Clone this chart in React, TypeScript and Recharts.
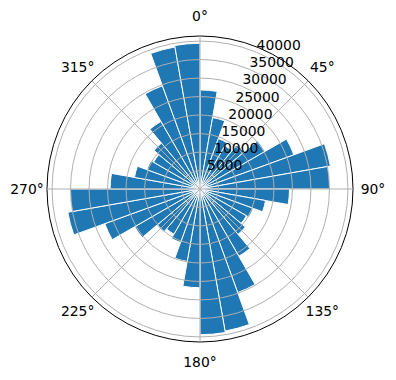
import { RadarChart, Radar, PolarGrid, PolarAngleAxis, PolarRadiusAxis, Sector } from 'recharts';

// wind-rose style bins, 10 degrees each, clockwise from north
const binStarts = [
  0, 10, 20, 30, 40, 50, 60, 70, 80,
  90, 100, 110, 120, 130, 140, 150, 160, 170,
  180, 190, 200, 210, 220, 230, 240, 250, 260,
  270, 280, 290, 300, 310, 320, 330, 340, 350,
];
const counts = [
  26800, 19600, 14500, 13500, 15500, 20300, 27000, 35800, 35100,
  24200, 18000, 15300, 14500, 16000, 21000, 29800, 39000, 39400,
  26700, 19900, 15400, 14100, 15200, 20400, 27400, 36300, 35100,
  24300, 18000, 15300, 14500, 16200, 21100, 29700, 39000, 39400,
];
const angleTicks = [0, 45, 90, 135, 180, 225, 270, 315];
const radiusTicks = [5000, 10000, 15000, 20000, 25000, 30000, 35000, 40000];
const R_MAX = 41370;
const BIN = 10;

const data = binStarts.map((b, i) => ({ angle: b + BIN / 2, count: counts[i] }));

const FONT = 'DejaVu Sans';

const BarsShape = (props: any) => {
  const points = props.points || [];
  return (
    <g>
      {points.map((p: any, i: number) => (
        <Sector
          key={i}
          cx={p.cx}
          cy={p.cy}
          innerRadius={0}
          outerRadius={p.radius}
          startAngle={p.angle + BIN / 2}
          endAngle={p.angle - BIN / 2}
          fill="#1f77b4"
          stroke="#ffffff"
          strokeWidth={1}
        />
      ))}
    </g>
  );
};

const AngleTick = ({ x, y, payload }: any) => (
  <text x={x} y={y} textAnchor="middle" dominantBaseline="central" fontFamily={FONT} fontSize={13.9} fill="#000">
    {payload.value}°
  </text>
);

const RadiusTick = ({ x, y, payload }: any) => (
  <text x={x} y={y - 2} textAnchor="start" fontFamily={FONT} fontSize={13.9} fill="#000">
    {payload.value}
  </text>
);

export default function App() {
  return (
    <div style={{ position: 'absolute', left: 0, top: 0, background: '#fff' }}>
      <RadarChart
        width={396}
        height={380}
        data={data}
        cx={200}
        cy={189}
        outerRadius={153}
        startAngle={90}
        endAngle={-270}
        margin={{ top: 0, right: 0, bottom: 0, left: 0 }}
      >
        <PolarAngleAxis
          dataKey="angle"
          type="number"
          domain={[0, 360]}
          ticks={angleTicks}
          tick={<AngleTick />}
          tickSize={20}
          tickLine={false}
          axisLine={{ stroke: '#000', strokeWidth: 1 }}
          axisLineType="circle"
        />
        <Radar dataKey="count" isAnimationActive={false} shape={BarsShape} />
        <PolarGrid gridType="circle" stroke="#b0b0b0" strokeWidth={1} zIndex={1000} />
        <PolarRadiusAxis
          type="number"
          domain={[0, R_MAX]}
          ticks={radiusTicks}
          angle={67.5}
          axisLine={false}
          tickLine={false}
          tick={<RadiusTick />}
          zIndex={1100}
        />
      </RadarChart>
    </div>
  );
}
